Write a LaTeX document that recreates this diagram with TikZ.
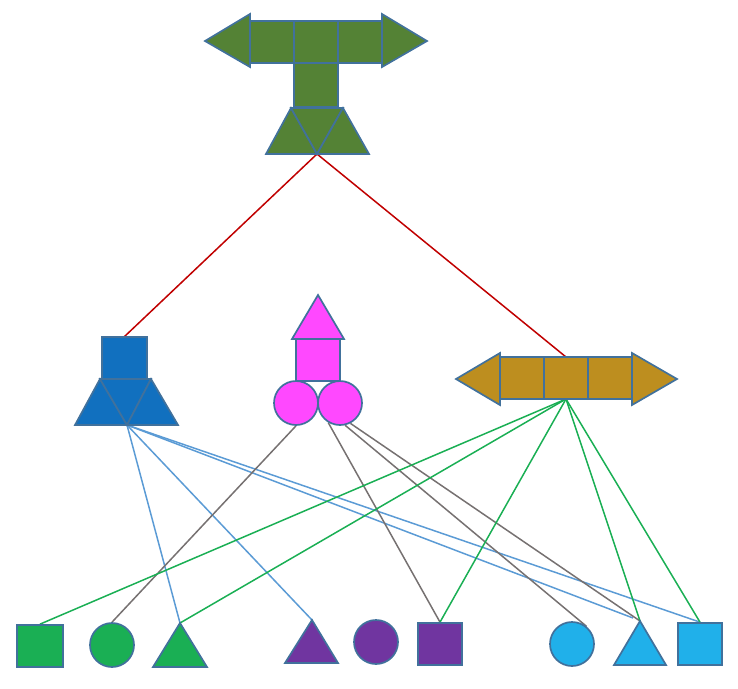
\documentclass[tikz,border=0pt]{standalone}
\usetikzlibrary{backgrounds}
\definecolor{outl}{HTML}{41719C}
\definecolor{topg}{HTML}{548235}
\definecolor{bluef}{HTML}{1170BF}
\definecolor{magf}{HTML}{FF48FF}
\definecolor{goldf}{HTML}{BD8E1F}
\definecolor{greenf}{HTML}{1AAF54}
\definecolor{purpf}{HTML}{7035A0}
\definecolor{skyf}{HTML}{20B0EA}
\definecolor{redl}{HTML}{C00000}
\definecolor{bluel}{HTML}{5B9BD5}
\definecolor{greyl}{HTML}{767171}
\definecolor{greenl}{HTML}{1AAF54}
\begin{document}
\begin{tikzpicture}[x=1pt,y=-1pt,
  part/.style={draw=outl, line width=1.7pt, line join=miter},
  rnd/.style={part, circle, inner sep=0pt, minimum size=44pt},
  sq/.style={part, rectangle, inner sep=0pt, minimum width=44pt, minimum height=42pt},
  link/.style={line width=1.5pt},
  redlink/.style={link, draw=redl},
  bluelink/.style={link, draw=bluel},
  greylink/.style={link, draw=greyl},
  greenlink/.style={link, draw=greenl}]
\useasboundingbox (0,0) rectangle (738,688);

% ---- top composite: double arrow, stem square, trapezoid of triangles
\filldraw[part, fill=topg] (205,41) -- (250,14) -- (250,67) -- cycle;
\filldraw[part, fill=topg] (250,21) rectangle (294,63);
\filldraw[part, fill=topg] (294,21) rectangle (338,63);
\filldraw[part, fill=topg] (338,21) rectangle (382,63);
\filldraw[part, fill=topg] (382,14) -- (427,41) -- (382,67) -- cycle;
\filldraw[part, fill=topg] (294,63) rectangle (338,107);
\filldraw[part, fill=topg] (291,108) -- (266,154) -- (317,154) -- cycle;
\filldraw[part, fill=topg] (291,108) -- (343,108) -- (317,154) -- cycle;
\filldraw[part, fill=topg] (343,108) -- (369,154) -- (317,154) -- cycle;
\coordinate (top) at (317,154);

% ---- blue composite: square on trapezoid
\filldraw[part, fill=bluef] (102,337) rectangle (147,379);
\filldraw[part, fill=bluef] (100,379) -- (75,425) -- (127,425) -- cycle;
\filldraw[part, fill=bluef] (100,379) -- (151,379) -- (127,425) -- cycle;
\filldraw[part, fill=bluef] (151,379) -- (178,425) -- (127,425) -- cycle;
\coordinate (bluetop) at (124,337);
\coordinate (blueapex) at (127,425);

% ---- magenta composite: triangle, square, two circles
\filldraw[part, fill=magf] (318,295) -- (344,339) -- (292,339) -- cycle;
\filldraw[part, fill=magf] (296,339) rectangle (340,381);
\node[rnd, fill=magf] (m1) at (296,403) {};
\node[rnd, fill=magf] (m2) at (340,403) {};

% ---- gold double arrow
\filldraw[part, fill=goldf] (456,379) -- (500,353) -- (500,405) -- cycle;
\filldraw[part, fill=goldf] (500,357) rectangle (544,399);
\filldraw[part, fill=goldf] (544,357) rectangle (588,399);
\filldraw[part, fill=goldf] (588,357) rectangle (632,399);
\filldraw[part, fill=goldf] (632,353) -- (677,379) -- (632,405) -- cycle;
\coordinate (goldtop) at (566,357);
\coordinate (goldbot) at (566,399);

% ---- bottom row
\node[sq, fill=greenf, minimum width=46pt] (gsq) at (40,646) {};
\node[rnd, fill=greenf] (gcirc) at (112,645) {};
\filldraw[part, fill=greenf] (153,667) -- (207,667) -- (180,623) -- cycle;
\coordinate (gtri) at (180,623);
\filldraw[part, fill=purpf] (285,663) -- (338,663) -- (312,620) -- cycle;
\coordinate (ptri) at (312,620);
\node[rnd, fill=purpf] (pcirc) at (376,642) {};
\node[sq, fill=purpf] (psq) at (440,644) {};
\node[rnd, fill=skyf] (bcirc) at (572,644) {};
\filldraw[part, fill=skyf] (614,665) -- (666,665) -- (640,621) -- cycle;
\coordinate (btri) at (640,621);
\coordinate (btrinear) at (633,618);
\node[sq, fill=skyf] (bsq) at (700,644) {};

% ---- connectors
\begin{scope}[on background layer]
\draw[redlink] (top) -- (bluetop);
\draw[redlink] (top) -- (goldtop);

\draw[bluelink] (blueapex) -- (gtri);
\draw[bluelink] (blueapex) -- (ptri);
\draw[bluelink] (blueapex) -- (btrinear);
\draw[bluelink] (blueapex) -- (bsq.north);

\draw[greylink] (m1.south) -- (gcirc.north);
\draw[greylink] (m2.239) -- (psq.north);
\draw[greylink] (m2.283) -- (bcirc.50);
\draw[greylink] (m2.297) -- (btri);

\draw[greenlink] (goldbot) -- (gsq.north);
\draw[greenlink] (goldbot) -- (gtri);
\draw[greenlink] (goldbot) -- (psq.north);
\draw[greenlink] (goldbot) -- (btri);
\draw[greenlink] (goldbot) -- (bsq.north);
\end{scope}
\end{tikzpicture}
\end{document}
